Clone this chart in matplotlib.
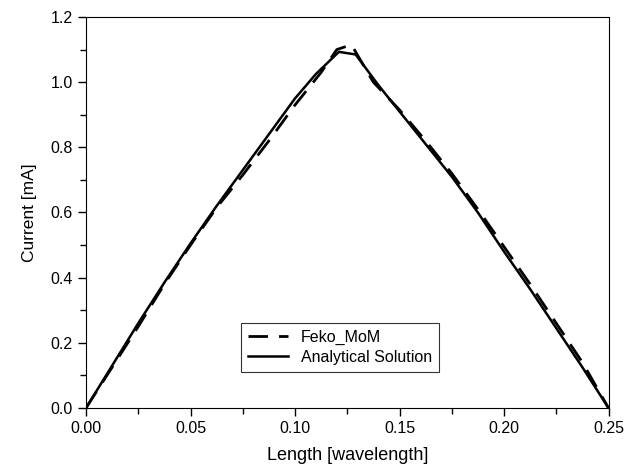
import matplotlib
matplotlib.use("Agg")
import matplotlib.pyplot as plt
from matplotlib.ticker import MultipleLocator

plt.rcParams['font.family'] = ['Liberation Sans', 'DejaVu Sans']

# Feko MoM (dashed)
feko_x = [0, 0.0125, 0.025, 0.0375, 0.05, 0.0625, 0.075, 0.0875, 0.1, 0.1125, 0.12,
          0.127, 0.1375, 0.15, 0.1625, 0.175, 0.1875, 0.2, 0.2125, 0.225, 0.2375, 0.25]
feko_y = [0, 0.125, 0.25, 0.38, 0.5, 0.615, 0.715, 0.82, 0.93, 1.03, 1.10,
          1.115, 1.0, 0.915, 0.82, 0.72, 0.61, 0.495, 0.38, 0.26, 0.14, 0.0]

# Analytical solution (solid)
ana_x = [0, 0.0125, 0.025, 0.0375, 0.05, 0.0625, 0.075, 0.0875, 0.1, 0.11, 0.121,
         0.129, 0.14, 0.15, 0.1625, 0.175, 0.1875, 0.2, 0.2125, 0.225, 0.2375, 0.25]
ana_y = [0, 0.13, 0.26, 0.385, 0.505, 0.62, 0.73, 0.84, 0.95, 1.025, 1.093,
         1.085, 0.99, 0.91, 0.81, 0.71, 0.6, 0.48, 0.365, 0.245, 0.125, 0.0]

fig = plt.figure(figsize=(6.25, 4.71), dpi=100)
ax = fig.add_axes([0.1376, 0.1338, 0.836, 0.8301])

ax.plot(feko_x, feko_y, color='black', lw=2, linestyle=(0, (7, 4)), label='Feko_MoM')
ax.plot(ana_x, ana_y, color='black', lw=1.8, label='Analytical Solution')

ax.set_xlim(0, 0.25)
ax.set_ylim(0, 1.2)
ax.xaxis.set_major_locator(MultipleLocator(0.05))
ax.xaxis.set_minor_locator(MultipleLocator(0.025))
ax.yaxis.set_major_locator(MultipleLocator(0.2))
ax.yaxis.set_minor_locator(MultipleLocator(0.1))
ax.xaxis.set_major_formatter(lambda v, p: f"{v:.2f}")
ax.yaxis.set_major_formatter(lambda v, p: f"{v:.1f}")
ax.tick_params(which='major', direction='out', length=6, width=1, labelsize=11.5)
ax.tick_params(which='minor', direction='out', length=4, width=1)
ax.tick_params(top=False, right=False, which='both')

ax.set_xlabel('Length [wavelength]', fontsize=13, labelpad=8)
ax.set_ylabel('Current [mA]', fontsize=12.5, labelpad=10)

leg = ax.legend(loc='lower left', bbox_to_anchor=(0.297, 0.092), fontsize=11.5,
                frameon=True, fancybox=False, edgecolor='black', handlelength=2.5,
                borderaxespad=0, labelspacing=0.3, borderpad=0.45)
leg.get_frame().set_linewidth(0.8)

plt.savefig('out.png')
